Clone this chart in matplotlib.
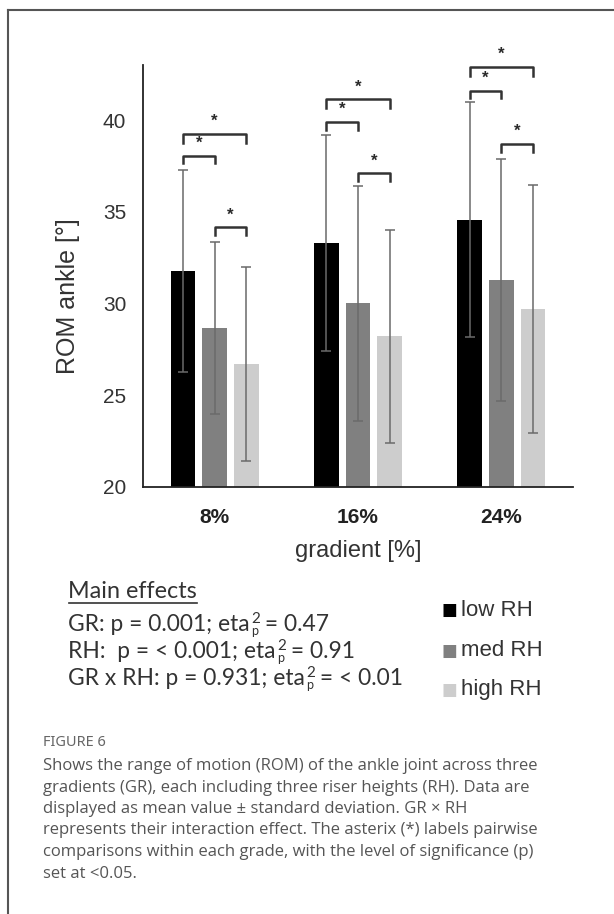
import matplotlib
matplotlib.use("Agg")
import matplotlib.pyplot as plt
from matplotlib.lines import Line2D
import numpy as np

# data (ROM ankle in degrees)
gradients = ['8%', '16%', '24%']
series_names = ['low RH', 'med RH', 'high RH']
means = [
    [31.75, 33.3, 34.56],   # low RH
    [28.65, 30.0, 31.3],    # med RH
    [26.7, 28.2, 29.7],     # high RH
]
sds = [
    [5.5, 5.9, 6.4],
    [4.7, 6.4, 6.6],
    [5.3, 5.8, 6.75],
]
bar_colors = ['#000000', '#808080', '#cdcdcd']

# significance brackets: pairs of bars within each gradient and their level
bracket_pairs = [(0, 2), (0, 1), (1, 2)]
bracket_levels = [
    [39.26, 38.05, 34.15],
    [41.13, 39.9, 37.1],
    [42.9, 41.6, 38.7],
]

# main effects: text before "eta", text after the p/2 indices
stats_pre = ['GR: p = 0.001; eta', 'RH:  p = < 0.001; eta', 'GR x RH: p = 0.931; eta']
stats_post = [' = 0.47', ' = 0.91', ' = < 0.01']

caption_lines = [
    'Shows the range of motion (ROM) of the ankle joint across three',
    'gradients (GR), each including three riser heights (RH). Data are',
    'displayed as mean value \u00b1 standard deviation. GR \u00d7 RH',
    'represents their interaction effect. The asterix (*) labels pairwise',
    'comparisons within each grade, with the level of significance (p)',
    'set at <0.05.',
]

plt.rcParams['font.family'] = ['Liberation Sans', 'DejaVu Sans']

W, H = 614, 914
fig = plt.figure(figsize=(W / 100, H / 100), dpi=100)


def fx(px):
    return px / W


def fy(py):
    return 1 - py / H


ax = fig.add_axes([fx(143), fy(486.7), fx(573) - fx(143), fy(65) - fy(486.7)])

x = np.arange(len(gradients))
step = 0.22
width = 0.172
for k in range(len(series_names)):
    ax.bar(x + (k - 1) * step, means[k], width, color=bar_colors[k],
           yerr=sds[k], ecolor='#6a6a6a', capsize=3.5,
           error_kw=dict(elinewidth=1.1, capthick=1.1), zorder=2)

for g in range(len(gradients)):
    for (i, j), lev in zip(bracket_pairs, bracket_levels[g]):
        x1 = g + (i - 1) * step
        x2 = g + (j - 1) * step
        drop = 0.5 if j - i == 2 else 0.42
        ax.plot([x1, x1, x2, x2], [lev - drop, lev, lev, lev - drop],
                color='#333333', lw=1.8, clip_on=False, zorder=3)
        ax.text((x1 + x2) / 2, lev + 0.25, '*', ha='center', va='bottom',
                fontsize=12, fontweight='bold', color='#2a2a2a', clip_on=False)

ax.set_xlim(-0.5, 2.5)
ax.set_ylim(20, 43)
ax.set_yticks([20, 25, 30, 35, 40])
ax.set_xticks(x)
ax.set_xticklabels(gradients, fontweight='bold')
ax.tick_params(axis='y', length=0, pad=12, labelsize=15, labelcolor='#333333')
ax.tick_params(axis='x', length=0, pad=15, labelsize=15, labelcolor='#222222')
for side in ['top', 'right']:
    ax.spines[side].set_visible(False)
for side in ['left', 'bottom']:
    ax.spines[side].set_linewidth(1.3)
    ax.spines[side].set_color('#222222')

ax.set_xlabel('gradient [%]', fontsize=17, color='#333333', labelpad=10)
ax.set_ylabel('ROM ankle [\u00b0]', fontsize=18, color='#333333')
ax.yaxis.set_label_coords(-0.147, 0.452)

# stats text block
renderer = fig.canvas.get_renderer()
txt_kw = dict(family='Lato', color='#333333', ha='left', va='baseline')
t = fig.text(fx(68.5), fy(598), 'Main effects', fontsize=16.8, **txt_kw)
bb = t.get_window_extent(renderer).transformed(fig.transFigure.inverted())
fig.add_artist(Line2D([bb.x0, bb.x1], [fy(603), fy(603)], color='#333333', lw=1.2))

for pre, post, base in zip(stats_pre, stats_post, [631, 658, 685]):
    t1 = fig.text(fx(68.5), fy(base), pre, fontsize=16.4, **txt_kw)
    x_end = t1.get_window_extent(renderer).x1
    ts = fig.text(fx(x_end + 1), fy(base + 4), 'p', fontsize=9, **txt_kw)
    tp = fig.text(fx(x_end + 1), fy(base - 8), '2', fontsize=11, **txt_kw)
    x_next = max(ts.get_window_extent(renderer).x1, tp.get_window_extent(renderer).x1)
    fig.text(fx(x_next - 1), fy(base), post, fontsize=16.4, **txt_kw)

# legend
for k, py in enumerate([610, 651, 690]):
    fig.text(fx(449), fy(py), '\u25a0', fontsize=12, color=bar_colors[k],
             ha='center', va='center', family='DejaVu Sans')
    fig.text(fx(461), fy(py), series_names[k], fontsize=16, color='#333333',
             ha='left', va='center')

# caption
fig.text(fx(43), fy(743), 'FIGURE 6', fontsize=10.5, fontweight='bold',
         family='Noto Sans', color='#666666', ha='left', va='center')
for k, line in enumerate(caption_lines):
    fig.text(fx(43), fy(766 + k * 21.5), line, fontsize=12, family='Open Sans',
             color='#555555', ha='left', va='center')

# frame around the figure panel
fig.add_artist(Line2D([fx(8), fx(8)], [fy(10), 0], color='#555555', lw=1.5))
fig.add_artist(Line2D([fx(8), 1], [fy(10), fy(10)], color='#555555', lw=1.5))

fig.savefig('out.png', dpi=100)
